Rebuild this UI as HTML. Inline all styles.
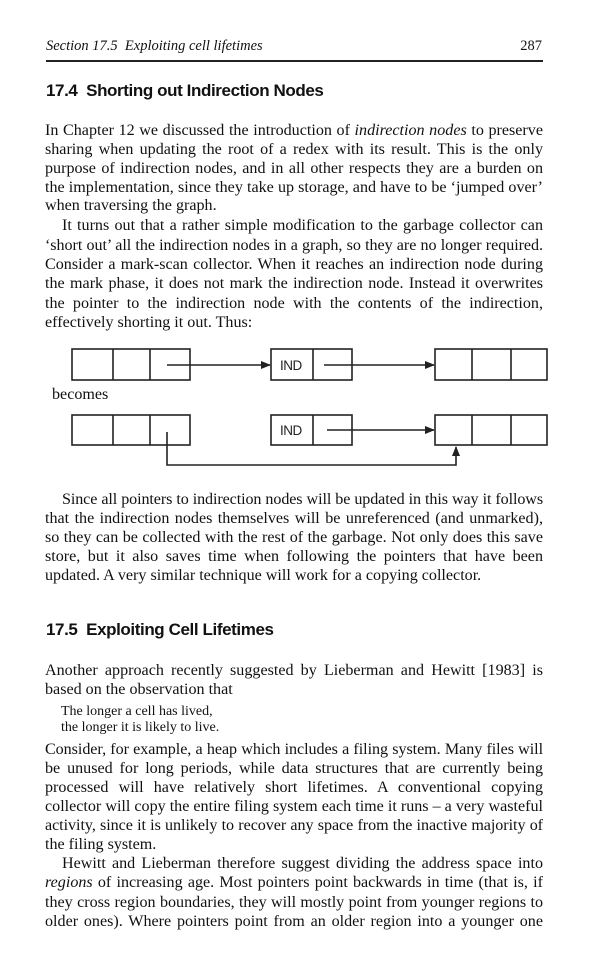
<!DOCTYPE html>
<html><head><meta charset="utf-8">
<style>
html,body{margin:0;padding:0;background:#fff;}
body{width:600px;height:975px;position:relative;overflow:hidden;color:#111;}
.l{position:absolute;left:45px;width:498px;font-family:"Liberation Serif",serif;font-size:16.1px;line-height:19px;height:19px;white-space:nowrap;text-align:justify;text-align-last:justify;}
.l.e{text-align-last:left;}
.l.i{left:62px;width:481px;}
.h{position:absolute;left:46px;font-family:"Liberation Sans",sans-serif;font-weight:bold;font-size:17px;letter-spacing:-0.4px;line-height:20px;}
.q{position:absolute;left:61px;font-family:"Liberation Serif",serif;font-size:14px;line-height:16px;}
</style></head><body>
<div style="position:absolute;left:46px;top:38px;font-family:'Liberation Serif',serif;font-style:italic;font-size:14.5px;">Section 17.5&nbsp; Exploiting cell lifetimes</div>
<div style="position:absolute;right:58px;top:38px;font-family:'Liberation Serif',serif;font-size:14.5px;">287</div>
<div style="position:absolute;left:46px;top:60px;width:497px;height:1.5px;background:#222;"></div>

<div class="h" style="top:81px;">17.4&nbsp; Shorting out Indirection Nodes</div>

<div>
<div class="l" style="top:121px">In Chapter 12 we discussed the introduction of <i>indirection nodes</i> to preserve</div>
<div class="l" style="top:140px">sharing when updating the root of a redex with its result. This is the only</div>
<div class="l" style="top:159px">purpose of indirection nodes, and in all other respects they are a burden on</div>
<div class="l" style="top:178px">the implementation, since they take up storage, and have to be ‘jumped over’</div>
<div class="l e" style="top:196px">when traversing the graph.</div>
</div>
<div>
<div class="l i" style="top:216px">It turns out that a rather simple modification to the garbage collector can</div>
<div class="l" style="top:236px">‘short out’ all the indirection nodes in a graph, so they are no longer required.</div>
<div class="l" style="top:255px">Consider a mark-scan collector. When it reaches an indirection node during</div>
<div class="l" style="top:274px">the mark phase, it does not mark the indirection node. Instead it overwrites</div>
<div class="l" style="top:294px">the pointer to the indirection node with the contents of the indirection,</div>
<div class="l e" style="top:313px">effectively shorting it out. Thus:</div>
</div>

<svg style="position:absolute;left:0;top:0" width="600" height="480" viewBox="0 0 600 480">
<defs><marker id="ah" markerWidth="10" markerHeight="8" refX="9" refY="4" orient="auto" markerUnits="userSpaceOnUse"><path d="M0,0 L10,4 L0,8 z" fill="#222"/></marker></defs>
<g fill="none" stroke="#222" stroke-width="1.6">
<g><rect x="72" y="349" width="118" height="31"/><line x1="113" y1="349" x2="113" y2="380"/><line x1="150" y1="349" x2="150" y2="380"/></g>
<g><rect x="271" y="349" width="81" height="31"/><line x1="313" y1="349" x2="313" y2="380"/></g>
<g><rect x="435" y="349" width="112" height="31"/><line x1="472" y1="349" x2="472" y2="380"/><line x1="511" y1="349" x2="511" y2="380"/></g>
<line x1="167" y1="365" x2="270" y2="365" marker-end="url(#ah)"/>
<line x1="324" y1="365" x2="434" y2="365" marker-end="url(#ah)"/>
<g><rect x="72" y="415" width="118" height="30"/><line x1="113" y1="415" x2="113" y2="445"/><line x1="150" y1="415" x2="150" y2="445"/></g>
<g><rect x="271" y="415" width="81" height="30"/><line x1="313" y1="415" x2="313" y2="445"/></g>
<g><rect x="435" y="415" width="112" height="30"/><line x1="472" y1="415" x2="472" y2="445"/><line x1="511" y1="415" x2="511" y2="445"/></g>
<line x1="327" y1="430" x2="434" y2="430" marker-end="url(#ah)"/>
<polyline points="167,432 167,465 456,465 456,447" marker-end="url(#ah)"/>
</g>
<text x="280" y="370" font-family="Liberation Sans, sans-serif" font-size="13.5" fill="#222" letter-spacing="-0.5">IND</text>
<text x="280" y="435" font-family="Liberation Sans, sans-serif" font-size="13.5" fill="#222" letter-spacing="-0.5">IND</text>
</svg>
<div style="position:absolute;left:52px;top:386px;font-family:'Liberation Serif',serif;font-size:16.1px;">becomes</div>

<div>
<div class="l i" style="top:490px">Since all pointers to indirection nodes will be updated in this way it follows</div>
<div class="l" style="top:509px">that the indirection nodes themselves will be unreferenced (and unmarked),</div>
<div class="l" style="top:528px">so they can be collected with the rest of the garbage. Not only does this save</div>
<div class="l" style="top:547px">store, but it also saves time when following the pointers that have been</div>
<div class="l e" style="top:566px">updated. A very similar technique will work for a copying collector.</div>
</div>

<div class="h" style="top:620px;">17.5&nbsp; Exploiting Cell Lifetimes</div>

<div>
<div class="l" style="top:661px">Another approach recently suggested by Lieberman and Hewitt [1983] is</div>
<div class="l e" style="top:680px">based on the observation that</div>
</div>
<div>
<div class="q" style="top:704px">The longer a cell has lived,</div>
<div class="q" style="top:720px">the longer it is likely to live.</div>
</div>

<div>
<div class="l" style="top:740px">Consider, for example, a heap which includes a filing system. Many files will</div>
<div class="l" style="top:759px">be unused for long periods, while data structures that are currently being</div>
<div class="l" style="top:778px">processed will have relatively short lifetimes. A conventional copying</div>
<div class="l" style="top:797px">collector will copy the entire filing system each time it runs – a very wasteful</div>
<div class="l" style="top:816px">activity, since it is unlikely to recover any space from the inactive majority of</div>
<div class="l e" style="top:835px">the filing system.</div>
</div>
<div>
<div class="l i" style="top:854px">Hewitt and Lieberman therefore suggest dividing the address space into</div>
<div class="l" style="top:873px"><i>regions</i> of increasing age. Most pointers point backwards in time (that is, if</div>
<div class="l" style="top:893px">they cross region boundaries, they will mostly point from younger regions to</div>
<div class="l" style="top:912px">older ones). Where pointers point from an older region into a younger one</div>
</div>
<script>
document.querySelectorAll('.l').forEach(function(el){
  var w = el.clientWidth, ls = 0;
  var r = document.createRange(); r.selectNodeContents(el);
  while (r.getBoundingClientRect().width > w && ls > -1.5) {
    ls -= 0.05;
    el.style.letterSpacing = ls + 'px';
  }
});
</script>
</body></html>
